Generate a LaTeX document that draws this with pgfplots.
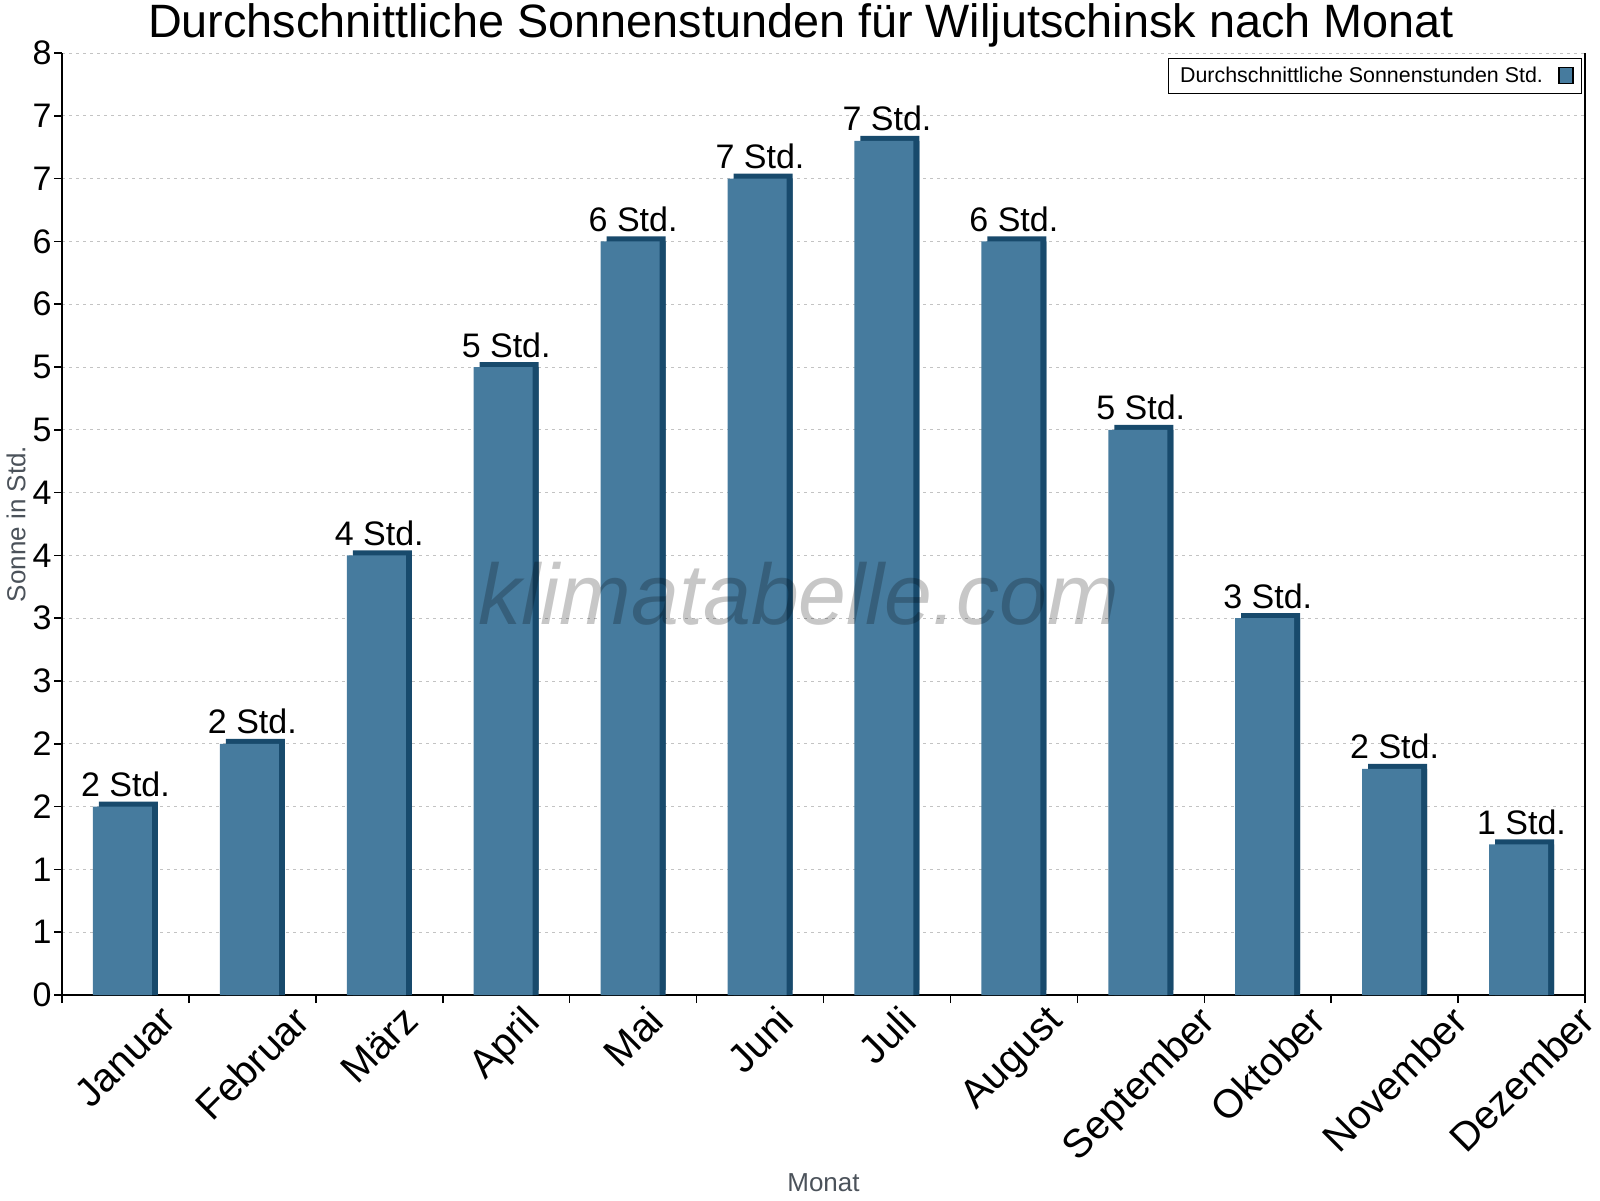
\documentclass[border=0pt]{standalone}
\usepackage{fontspec}
\setmainfont{Liberation Sans}
\usepackage{pgfplots}
\pgfplotsset{compat=1.18}
\usepackage{pgfplotstable}
\definecolor{barfront}{RGB}{70,123,158}
\definecolor{barside}{RGB}{24,74,108}
\definecolor{labgray}{RGB}{75,82,90}
\definecolor{gridgray}{RGB}{195,195,195}

\pgfplotstableread[col sep=comma]{
x,y,label
0,1.5,2 Std.
1,2.0,2 Std.
2,3.5,4 Std.
3,5.0,5 Std.
4,6.0,6 Std.
5,6.5,7 Std.
6,6.8,7 Std.
7,6.0,6 Std.
8,4.5,5 Std.
9,3.0,3 Std.
10,1.8,2 Std.
11,1.2,1 Std.
}\sonne

\begin{document}
\begin{tikzpicture}
\path[use as bounding box] (0,0) rectangle (800pt,600pt);
\begin{axis}[
  at={(31pt,102.5pt)}, anchor=south west,
  scale only axis, width=761.5pt, height=471pt,
  xmin=-0.5, xmax=11.5, ymin=0, ymax=7.5,
  axis x line*=bottom, ytick pos=left,
  axis line style={line width=0.75pt, black},
  xtick={-0.5,0.5,1.5,2.5,3.5,4.5,5.5,6.5,7.5,8.5,9.5,10.5,11.5},
  x tick label as interval,
  xticklabels={\rotatebox{45}{Januar},\rotatebox{45}{Februar},\rotatebox{45}{März},\rotatebox{45}{April},\rotatebox{45}{Mai},\rotatebox{45}{Juni},\rotatebox{45}{Juli},\rotatebox{45}{August},\rotatebox{45}{September},\rotatebox{45}{Oktober},\rotatebox{45}{November},\rotatebox{45}{Dezember}},
  xticklabel style={font=\fontsize{20}{24}\selectfont, anchor=north, inner sep=0pt, yshift=0pt},
  ytick={0,0.5,1,1.5,2,2.5,3,3.5,4,4.5,5,5.5,6,6.5,7,7.5},
  yticklabels={0,1,1,2,2,3,3,4,4,5,5,6,6,7,7,8},
  yticklabel style={font=\fontsize{17}{20}\selectfont, anchor=east, inner sep=0pt, xshift=-1pt},
  ymajorgrids, grid style={gridgray, line width=0.5pt, dash pattern=on 1.5pt off 2pt},
  tick style={black, line width=0.75pt},
  major tick length=4pt, tick align=outside,
  xlabel={Monat},
  xlabel style={at={(axis description cs:0.5,-0.1996)}, anchor=center, font=\fontsize{13}{15}\selectfont, text=labgray},
  ylabel={Sonne in Std.},
  ylabel style={at={(axis description cs:-0.0302,0.5)}, anchor=center, font=\fontsize{13}{15}\selectfont, text=labgray},
  legend style={at={(1,1)}, anchor=north east, xshift=-1.5pt, yshift=-2.5pt, draw=black, line width=0.5pt,
    font=\fontsize{10.7}{12}\selectfont, inner xsep=4pt, inner ysep=2pt},
  legend plot pos=right,
  legend cell align=left,
]
\addplot[ybar, bar width=29.5pt, bar shift=1.5pt, fill=barside, draw=none, forget plot] table[x=x,y=y]{\sonne};
\addplot[ybar, bar width=29.5pt, bar shift=1.5pt, fill=barside, draw=none, forget plot, yshift=2.5pt] table[x=x,y=y]{\sonne};
\addplot[ybar, bar width=29.5pt, bar shift=-1.5pt, fill=barfront, draw=none,
  point meta=explicit symbolic, nodes near coords,
  nodes near coords style={font=\fontsize{17}{20}\selectfont, anchor=base, inner sep=0pt, yshift=5pt, text=black},
  legend image code/.code={\path (0pt,0pt); \draw[fill=barfront, draw=black, line width=0.6pt] (6pt,-4pt) rectangle (13pt,4pt);}
] table[x=x,y=y,meta=label]{\sonne};
\addlegendentry{Durchschnittliche Sonnenstunden Std.}
\end{axis}
\node[anchor=base, font=\fontsize{23.4}{27}\selectfont] at (400.5pt,581pt) {Durchschnittliche Sonnenstunden für Wiljutschinsk nach Monat};
\node[anchor=base, text=black, opacity=0.22, font=\fontsize{43}{50}\selectfont\itshape] at (399.5pt,287.5pt) {klimatabelle.com};
\end{tikzpicture}
\end{document}
